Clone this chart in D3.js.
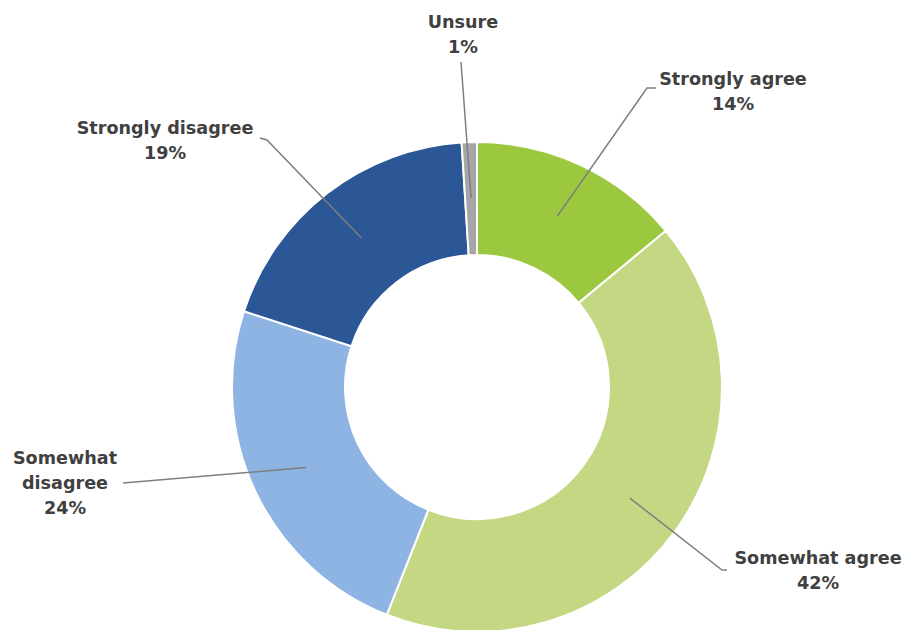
<!DOCTYPE html>
<html>
<head>
<meta charset="utf-8">
<script src="https://cdn.jsdelivr.net/npm/d3@7/dist/d3.min.js"></script>
<style>
  html, body { margin: 0; padding: 0; background: #fff; }
  svg { display: block; }
  .lbl { font-family: "DejaVu Sans", sans-serif; font-weight: bold; font-size: 17.6px; fill: #404040; }
</style>
</head>
<body>
<svg id="chart" width="907" height="630"></svg>
<script>
// Survey responses, clockwise from 12 o'clock
const categories = ["Strongly agree", "Somewhat agree", "Somewhat disagree", "Strongly disagree", "Unsure"];
const values = [14, 42, 24, 19, 1];
const colors = ["#9bc83f", "#c4d782", "#8db4e2", "#2b5797", "#a6a6a6"];

// Label placement: text centre x, first baseline y, and the line-break form of each label
const labelLines = [
  ["Strongly agree"],
  ["Somewhat agree"],
  ["Somewhat", "disagree"],
  ["Strongly disagree"],
  ["Unsure"]
];
const labelPos = [
  { x: 733, y: 85, elbow: [[647, 88], [656, 88]] },
  { x: 818, y: 564, elbow: [[722, 570], [727, 570]] },
  { x: 65, y: 464, elbow: [[123, 483]] },
  { x: 165, y: 134, elbow: [[267, 140], [260, 138]] },
  { x: 463, y: 28, elbow: [[461, 62]] }
];

const cx = 477, cy = 387, rOuter = 245, rInner = 132, lineH = 25;

const svg = d3.select("#chart");
const g = svg.append("g").attr("transform", `translate(${cx},${cy})`);

const data = categories.map((c, i) => ({ name: c, value: values[i], i }));
const pie = d3.pie().sort(null).value(d => d.value);
const arcs = pie(data);

const arc = d3.arc().innerRadius(rInner).outerRadius(rOuter);
const mid = d3.arc().innerRadius(189).outerRadius(189);

g.selectAll("path.slice")
  .data(arcs)
  .join("path")
  .attr("class", "slice")
  .attr("d", arc)
  .attr("fill", d => colors[d.data.i])
  .attr("stroke", "#fff")
  .attr("stroke-width", 2);

// Leader lines from the middle of each ring segment out to its label
const line = d3.line();
svg.selectAll("path.leader")
  .data(arcs)
  .join("path")
  .attr("class", "leader")
  .attr("d", d => {
    const [mx, my] = mid.centroid(d);
    const pts = [[cx + mx, cy + my], ...labelPos[d.data.i].elbow];
    return line(pts);
  })
  .attr("fill", "none")
  .attr("stroke", "#7f7f7f")
  .attr("stroke-width", 1.5);

const fmt = d3.format("d");
const labels = svg.selectAll("text.lbl")
  .data(arcs)
  .join("text")
  .attr("class", "lbl")
  .attr("text-anchor", "middle")
  .attr("x", d => labelPos[d.data.i].x)
  .attr("y", d => labelPos[d.data.i].y);

labels.each(function(d) {
  const t = d3.select(this);
  const p = labelPos[d.data.i];
  const lines = labelLines[d.data.i].concat([fmt(d.data.value) + "%"]);
  lines.forEach((s, k) => {
    t.append("tspan").attr("x", p.x).attr("y", p.y + k * lineH).text(s);
  });
});
</script>
</body>
</html>
